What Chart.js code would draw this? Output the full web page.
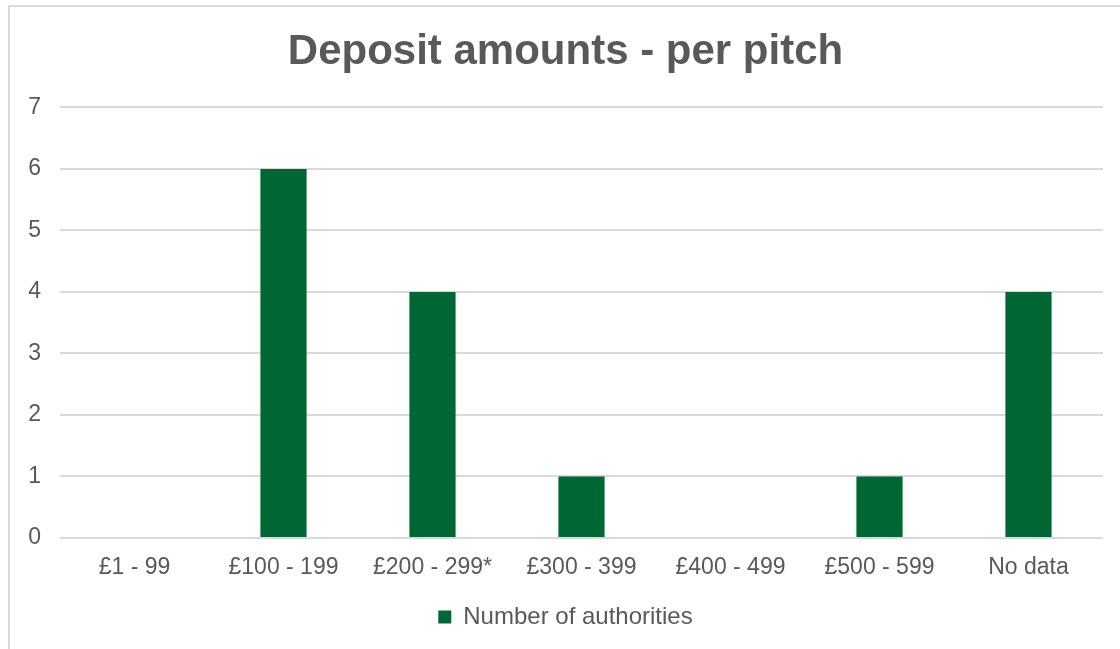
<!doctype html>
<html lang="en">
<head>
  <meta charset="utf-8">
  <title>Deposit amounts - per pitch</title>
  <style>
    body { margin: 0; background: #fff; overflow: hidden; }
    .frame { position: absolute; left: 8px; top: 5px; width: 1200px; height: 700px;
             border-left: 2px solid #d9d9d9; border-top: 2px solid #d9d9d9; }
    .box { position: absolute; left: 0; top: 0; width: 1110px; height: 642px; }
  </style>
</head>
<body>
  <div class="frame">
    <div class="box"><canvas id="canvas"></canvas></div>
  </div>
  <script src="https://cdn.jsdelivr.net/npm/chart.js@4.4.1/dist/chart.umd.min.js"></script>
  <script>
    // data
    var categories = ['£1 - 99', '£100 - 199', '£200 - 299*', '£300 - 399', '£400 - 499', '£500 - 599', 'No data'];
    var authorities = [0, 6, 4, 1, 0, 1, 4];
    var seriesName = 'Number of authorities';

    var grey = '#595959';
    var green = '#006633';
    var family = 'Liberation Sans, Arial, sans-serif';

    var ctx = document.getElementById('canvas').getContext('2d');
    var chart = new Chart(ctx, {
      type: 'bar',
      data: {
        labels: categories,
        datasets: [{
          label: seriesName,
          data: authorities,
          backgroundColor: green,
          borderWidth: 0,
          categoryPercentage: 1,
          barPercentage: 0.31
        }]
      },
      options: {
        responsive: true,
        maintainAspectRatio: false,
        animation: false,
        layout: { padding: { left: 18, right: 17, top: 0, bottom: 10 } },
        plugins: {
          title: {
            display: true,
            text: 'Deposit amounts - per pitch',
            color: grey,
            font: { family: family, size: 42, weight: 'bold' },
            padding: { top: 20, bottom: 30 }
          },
          legend: {
            position: 'bottom',
            labels: {
              color: grey,
              font: { family: family, size: 24 },
              boxWidth: 13,
              boxHeight: 13,
              padding: 10
            }
          },
          tooltip: { enabled: false }
        },
        scales: {
          x: {
            grid: { display: false },
            border: { display: false },
            ticks: {
              color: grey,
              font: { family: family, size: 23 },
              padding: 8,
              maxRotation: 0
            },
            afterFit: function (s) {
              s.paddingLeft = 0;
              s.paddingRight = 0;
              s.height = 57;
            }
          },
          y: {
            min: 0,
            max: 7,
            grid: { color: '#d9d9d9', lineWidth: 2, drawTicks: false },
            border: { display: false },
            ticks: {
              stepSize: 1,
              color: grey,
              font: { family: family, size: 23 },
              padding: 19
            },
            afterFit: function (s) {
              s.width = 32;
            }
          }
        }
      }
    });
  </script>
</body>
</html>
